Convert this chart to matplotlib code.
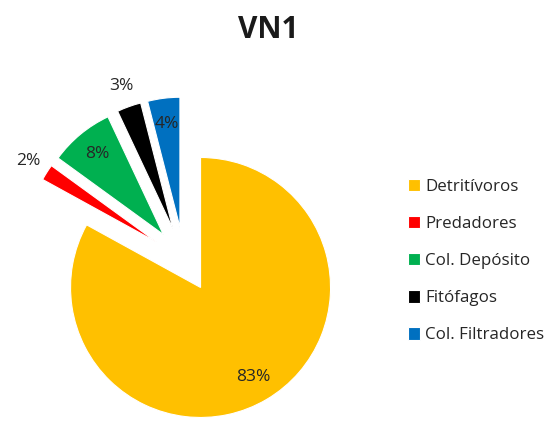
import matplotlib
matplotlib.use('Agg')
import matplotlib.pyplot as plt
import numpy as np

plt.rcParams.update({
    'font.family': ['Open Sans', 'DejaVu Sans'],
    'font.size': 12,
})

# Feeding groups and their share (%)
categories = ['Detritívoros', 'Predadores', 'Col. Depósito', 'Fitófagos', 'Col. Filtradores']
shares = [83, 2, 8, 3, 4]
colors = ['#FFC000', '#FF0000', '#00B050', '#000000', '#0070C0']
outside_labels = [1, 3]  # small slices get their label outside

fig = plt.figure(figsize=(5.53, 4.21), dpi=100)
ax = fig.add_axes([0, 0, 1, 1])

wedges, texts, autotexts = ax.pie(
    shares, colors=colors, startangle=90, counterclock=False,
    explode=[0.25] * len(shares), autopct='%d%%', pctdistance=0.8,
    wedgeprops=dict(edgecolor='white', linewidth=0.8),
    textprops=dict(fontsize=12.5, color='#262626'),
)

# push the tiny slices' labels out past the rim
for i in outside_labels:
    w = wedges[i]
    mid = np.deg2rad((w.theta1 + w.theta2) / 2)
    cx, cy = w.center
    autotexts[i].set_position((cx + 1.17 * w.r * np.cos(mid), cy + 1.17 * w.r * np.sin(mid)))

# 130 px per data unit, pie centre at (184, 259.5) px from top-left
ax.set_aspect('auto')
ax.set_xlim(-184 / 130, (553 - 184) / 130)
ax.set_ylim(-161.5 / 130, (421 - 161.5) / 130)
ax.axis('off')

fig.text(268 / 553, 1 - 30 / 421, 'VN1', ha='center', va='center',
         fontsize=21.5, fontweight='bold', color='#1a1a1a')

fig.legend(wedges, categories, loc='center left', bbox_to_anchor=(0.737, 0.380),
           frameon=False, fontsize=12.2, handlelength=0.75, handleheight=0.75,
           handletextpad=0.3, labelspacing=1.24, borderpad=0, borderaxespad=0,
           labelcolor='#262626')

fig.savefig('out.png', dpi=100)
